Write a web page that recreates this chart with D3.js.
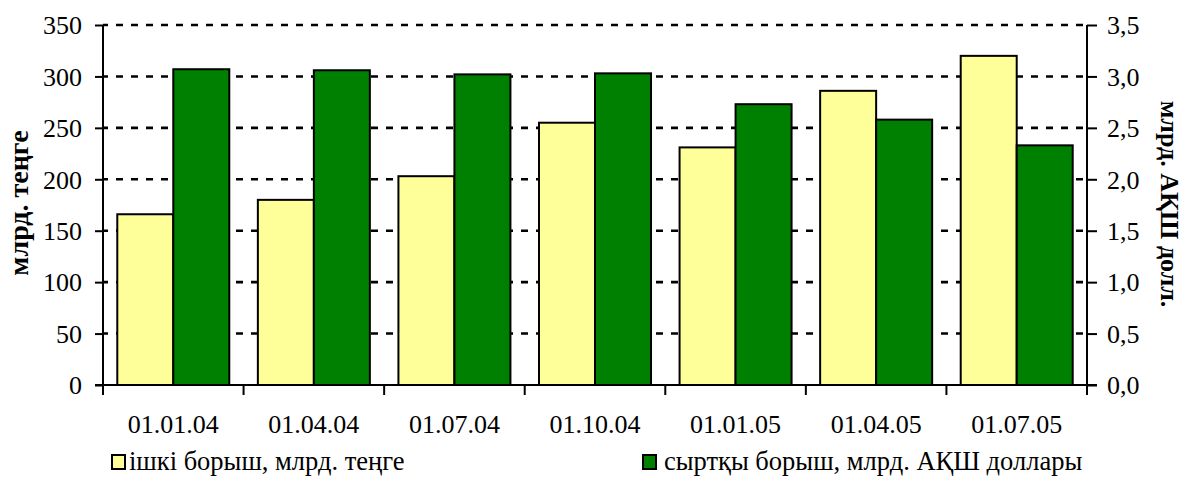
<!DOCTYPE html>
<html>
<head>
<meta charset="utf-8">
<script src="https://cdn.jsdelivr.net/npm/d3@7"></script>
<style>
  html, body { margin: 0; padding: 0; background: #fff; }
</style>
</head>
<body>
<svg id="chart" width="1185" height="479"></svg>
<script>
// Quarterly dates
const categories = ["01.01.04", "01.04.04", "01.07.04", "01.10.04", "01.01.05", "01.04.05", "01.07.05"];
// Domestic debt, bn tenge (left axis)
const domesticDebt = [166, 180, 203, 255, 231, 286, 320];
// External debt, bn US dollars (right axis)
const externalDebt = [3.07, 3.06, 3.02, 3.03, 2.73, 2.58, 2.33];

const leftTicks = [0, 50, 100, 150, 200, 250, 300, 350];
const rightTicks = [0, 0.5, 1.0, 1.5, 2.0, 2.5, 3.0, 3.5];

const seriesNames = ["ішкі борыш, млрд. теңге", "сыртқы борыш, млрд. АҚШ доллары"];
const seriesColors = ["#FFFF99", "#008000"];
const leftTitle = "млрд. теңге";
const rightTitle = "млрд. АҚШ долл.";

const FONT = "Liberation Serif";
const svg = d3.select("#chart").attr("font-family", FONT);
const plot = { left: 103, right: 1087, top: 25, bottom: 385 };

const x = d3.scaleBand().domain(categories).range([plot.left, plot.right]);
const yL = d3.scaleLinear().domain([0, 350]).range([plot.bottom, plot.top]);
const yR = d3.scaleLinear().domain([0, 3.5]).range([plot.bottom, plot.top]);

const commaFmt = d3.formatLocale({ decimal: ",", thousands: " ", grouping: [3], currency: ["", ""] }).format(".1f");

// Dashed gridlines at the left-axis ticks
svg.append("g")
  .selectAll("line")
  .data(leftTicks.filter(d => d > 0))
  .join("line")
  .attr("x1", plot.left).attr("x2", plot.right)
  .attr("y1", d => yL(d)).attr("y2", d => yL(d))
  .attr("stroke", "#000").attr("stroke-width", 2.6)
  .attr("stroke-dasharray", "7,8").attr("stroke-dashoffset", 2);

// Bars: domestic debt on the left scale, external debt on the right scale
const barW = 56;
const offset = (x.bandwidth() - barW * 2) / 2;
const bars = svg.append("g");
bars.selectAll("rect.dom").data(categories).join("rect").attr("class", "dom")
  .attr("x", d => x(d) + offset).attr("width", barW)
  .attr("y", (d, i) => yL(domesticDebt[i])).attr("height", (d, i) => yL(0) - yL(domesticDebt[i]))
  .attr("fill", seriesColors[0]).attr("stroke", "#000").attr("stroke-width", 2);
bars.selectAll("rect.ext").data(categories).join("rect").attr("class", "ext")
  .attr("x", d => x(d) + offset + barW).attr("width", barW)
  .attr("y", (d, i) => yR(externalDebt[i])).attr("height", (d, i) => yR(0) - yR(externalDebt[i]))
  .attr("fill", seriesColors[1]).attr("stroke", "#000").attr("stroke-width", 2);

// Value axes
const gL = svg.append("g").attr("transform", `translate(${plot.left},0)`)
  .call(d3.axisLeft(yL).tickValues(leftTicks).tickSize(8).tickPadding(13).tickFormat(d3.format("d")));
const gR = svg.append("g").attr("transform", `translate(${plot.right},0)`)
  .call(d3.axisRight(yR).tickValues(rightTicks).tickSize(10).tickPadding(10).tickFormat(commaFmt));
[gL, gR].forEach(g => {
  g.attr("font-family", FONT).attr("font-size", 26);
  g.select(".domain").attr("stroke", "#000").attr("stroke-width", 2).attr("d", `M0,${plot.top}V${plot.bottom + 1}`);
  g.selectAll(".tick line").attr("stroke", "#000").attr("stroke-width", 2);
  g.selectAll(".tick text").attr("fill", "#000").attr("dy", "0.34em");
});

// Category axis: baseline, ticks between quarters, labels centred under each pair
const gB = svg.append("g").attr("font-size", 26);
gB.append("line").attr("x1", plot.left - 8).attr("x2", plot.right + 10)
  .attr("y1", plot.bottom).attr("y2", plot.bottom).attr("stroke", "#000").attr("stroke-width", 2);
const boundaries = categories.map(c => x(c)).concat([x.range()[1]]);
gB.selectAll("line.tb").data(boundaries).join("line").attr("class", "tb")
  .attr("x1", d => d).attr("x2", d => d).attr("y1", plot.bottom).attr("y2", plot.bottom + 10)
  .attr("stroke", "#000").attr("stroke-width", 2);
gB.selectAll("text").data(categories).join("text")
  .attr("x", d => x(d) + x.bandwidth() / 2).attr("y", 433).attr("text-anchor", "middle").text(d => d);

// Axis titles
svg.append("text").attr("transform", "translate(28,203) rotate(-90)").attr("text-anchor", "middle")
  .attr("font-size", 28).attr("font-weight", "bold").text(leftTitle);
svg.append("text").attr("transform", "translate(1161,204) rotate(90)").attr("text-anchor", "middle")
  .attr("font-size", 26).attr("font-weight", "bold").text(rightTitle);

// Legend
const legendPos = [{ box: 112, text: 129 }, { box: 643, text: 664 }];
const lg = svg.append("g");
seriesNames.forEach((name, i) => {
  lg.append("rect").attr("x", legendPos[i].box).attr("y", 455).attr("width", 13).attr("height", 14)
    .attr("fill", seriesColors[i]).attr("stroke", "#000").attr("stroke-width", 2);
  lg.append("text").attr("x", legendPos[i].text).attr("y", 470).attr("font-size", 26.5).text(name);
});
</script>
</body>
</html>
